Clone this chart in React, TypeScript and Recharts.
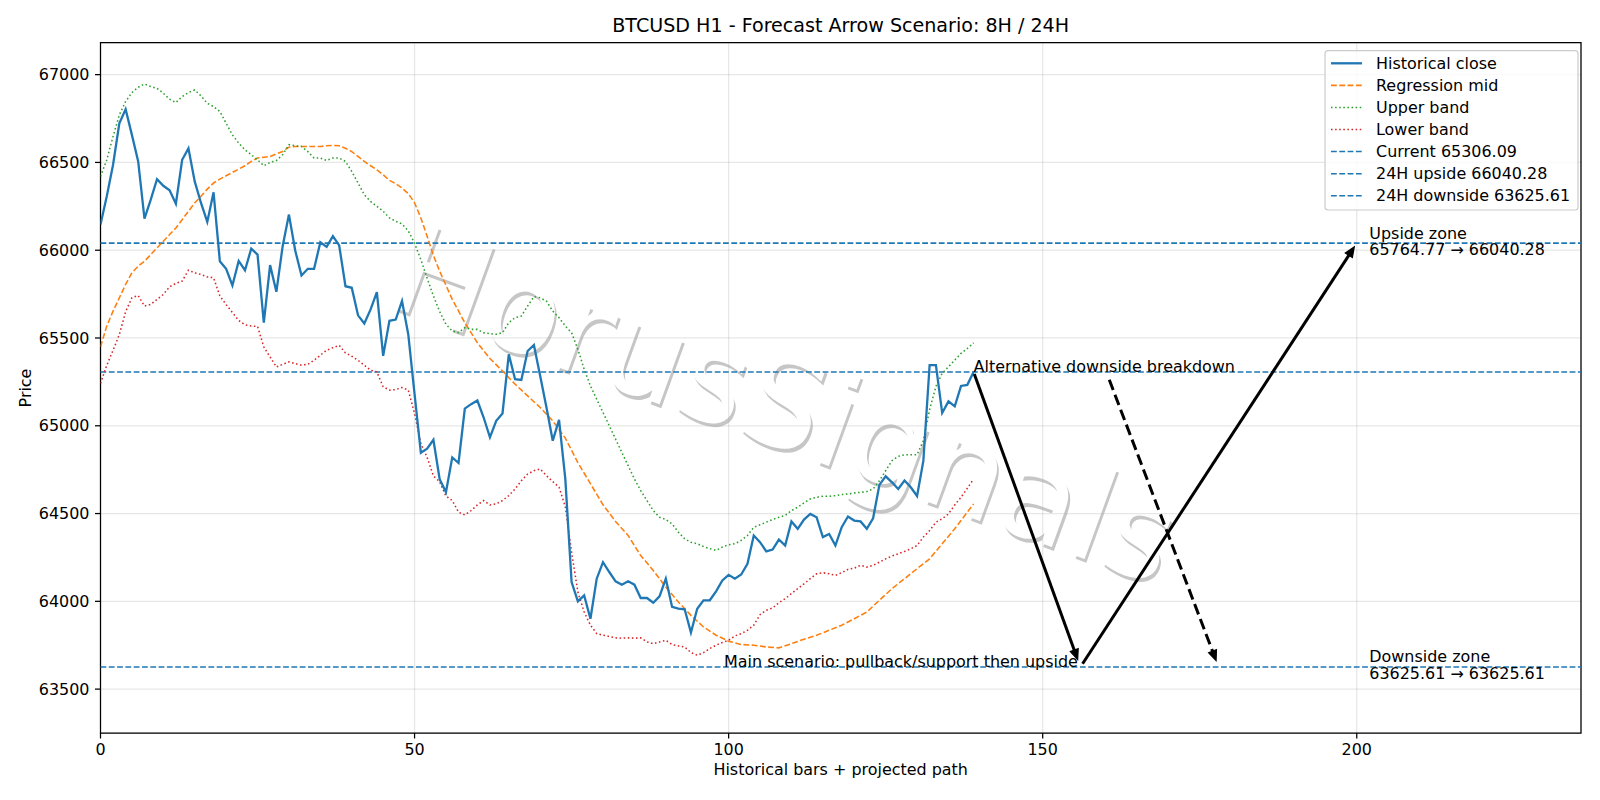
import React from 'react';
import { LineChart, Line, XAxis, YAxis, CartesianGrid, ReferenceLine, ReferenceDot, ReferenceArea } from 'recharts';

const W = 1600;
const H = 800;
const FONT = '"DejaVu Sans", sans-serif';
const FS = 15.95;

// hourly closes, bar 0..139
const closePrices = [
  66146, 66307, 66487, 66723, 66803, 66657, 66506, 66180, 66288, 66405,
  66367, 66341, 66265, 66515, 66580, 66392, 66269, 66161, 66330, 65937,
  65894, 65799, 65939, 65886, 66009, 65975, 65587, 65915, 65763, 66023,
  66203, 65998, 65856, 65894, 65894, 66045, 66019, 66080, 66027, 65795,
  65786, 65629, 65583, 65663, 65761, 65398, 65598, 65605, 65710, 65520,
  65180, 64846, 64870, 64920, 64695, 64622, 64820, 64788, 65098, 65123,
  65144, 65047, 64934, 65028, 65070, 65407, 65265, 65261, 65426, 65460,
  65284, 65104, 64915, 65034, 64697, 64110, 64000, 64034, 63901, 64129,
  64223, 64167, 64114, 64095, 64114, 64095, 64019, 64019, 63992, 64028,
  64129, 63968, 63958, 63955, 63822, 63958, 64006, 64006, 64057, 64119,
  64151, 64129, 64153, 64214, 64375, 64337, 64284, 64295, 64352, 64318,
  64455, 64413, 64466, 64498, 64479, 64366, 64384, 64318, 64422, 64483,
  64460, 64455, 64413, 64473, 64663, 64712, 64678, 64640, 64688, 64650,
  64600, 64800, 65346, 65346, 65073, 65139, 65111, 65227, 65233, 65306.09,
];

const upperBand = [
  66420, 66515, 66648, 66771, 66847, 66898, 66928, 66947, 66932, 66922,
  66894, 66860, 66841, 66875, 66898, 66913, 66879, 66837, 66818, 66790,
  66723, 66657, 66610, 66572, 66544, 66515, 66481, 66500, 66511, 66544,
  66601, 66595, 66591, 66562, 66525, 66525, 66511, 66525, 66525, 66506,
  66449, 66383, 66316, 66278, 66250, 66222, 66184, 66165, 66150, 66110,
  66040, 65947, 65840, 65740, 65650, 65578, 65540, 65530, 65559, 65549,
  65549, 65530, 65525, 65521, 65530, 65587, 65616, 65625, 65682, 65735,
  65729, 65710, 65653, 65616, 65568, 65530, 65436, 65322, 65227, 65151,
  65076, 65000, 64924, 64848, 64773, 64697, 64631, 64574, 64517, 64479,
  64466, 64441, 64394, 64356, 64337, 64328, 64312, 64300, 64290, 64309,
  64322, 64328, 64347, 64375, 64422, 64436, 64451, 64466, 64479, 64489,
  64517, 64536, 64561, 64583, 64593, 64598, 64598, 64602, 64608, 64612,
  64617, 64621, 64625, 64640, 64687, 64744, 64801, 64826, 64835, 64835,
  64835, 64915, 65092, 65224, 65299, 65336, 65374, 65412, 65440, 65472,
];

const lowerBand = [
  65241, 65345, 65430, 65520, 65650, 65729, 65742, 65682, 65691, 65720,
  65748, 65792, 65811, 65824, 65886, 65871, 65862, 65848, 65843, 65740,
  65690, 65645, 65600, 65575, 65568, 65566, 65449, 65392, 65335, 65350,
  65364, 65354, 65345, 65350, 65373, 65402, 65430, 65445, 65458, 65415,
  65396, 65373, 65345, 65316, 65307, 65222, 65203, 65206, 65218, 65203,
  65070, 64900, 64820, 64715, 64680, 64600, 64574, 64508, 64492, 64517,
  64549, 64574, 64549, 64555, 64574, 64602, 64640, 64687, 64725, 64744,
  64754, 64716, 64682, 64650, 64540, 64280, 64053, 63939, 63864, 63816,
  63807, 63800, 63792, 63790, 63792, 63790, 63792, 63769, 63759, 63769,
  63778, 63754, 63746, 63740, 63708, 63693, 63708, 63731, 63750, 63765,
  63778, 63803, 63816, 63835, 63864, 63924, 63949, 63962, 63992, 64015,
  64044, 64072, 64100, 64129, 64157, 64163, 64157, 64148, 64163, 64182,
  64189, 64205, 64195, 64205, 64223, 64242, 64258, 64271, 64284, 64299,
  64318, 64366, 64403, 64451, 64470, 64498, 64549, 64593, 64644, 64697,
];

// regression mid, read at these bars
const midBars = [
  0, 1, 2, 3, 4, 5, 6, 7, 8, 9, 10, 11, 12, 13, 14, 15, 16, 17, 18, 19,
  20, 21, 22, 23, 24, 25, 26, 27, 28, 29, 30, 31, 32, 33, 34, 35, 36, 37, 38, 39,
  40, 41, 42, 43, 44, 45, 46, 47, 48, 49, 50, 51, 52, 53, 54,
  56, 58, 60, 62, 64, 66, 68, 70, 72, 74, 76, 78, 80, 82, 84, 86, 88, 90, 92, 94,
  96, 98, 100, 102, 104, 106, 108, 110, 112, 114, 116, 118, 120, 122, 124, 126,
  128, 130, 132, 134, 136, 138, 139,
];
const midValues = [
  65450, 65568, 65653, 65729, 65805, 65871, 65909, 65937, 65975, 66013,
  66051, 66089, 66127, 66174, 66222, 66269, 66307, 66348, 66383, 66405,
  66424, 66443, 66462, 66481, 66506, 66525, 66530, 66534, 66549, 66562,
  66587, 66591, 66591, 66591, 66591, 66591, 66595, 66597, 66595, 66581,
  66562, 66534, 66506, 66481, 66458, 66430, 66398, 66379, 66354, 66322,
  66270, 66184, 66080, 65970, 65880,
  65720, 65587, 65473, 65383, 65312, 65237, 65170, 65104, 65028, 64930,
  64790, 64670, 64550, 64455, 64375, 64261, 64176, 64081, 63996, 63920,
  63854, 63807, 63773, 63754, 63750, 63740, 63735, 63759, 63784, 63807,
  63835, 63864, 63901, 63939, 64006, 64072, 64129, 64186, 64242, 64328,
  64413, 64508, 64555,
];

const CURRENT = 65306.09;
const UPSIDE_FROM = 65764.77;
const UPSIDE = 66040.28;
const DOWNSIDE = 63625.61;

const xTicks = [0, 50, 100, 150, 200];
const yTicks = [63500, 64000, 64500, 65000, 65500, 66000, 66500, 67000];
const X_MAX = 235.7;
const Y_MIN = 63250;
const Y_MAX = 67182;

// projected path (bar, price)
const mainPathBars = [139, 156, 200];
const mainPathPrices = [CURRENT, DOWNSIDE, UPSIDE];
const altFrom = { x: 160.6, y: 65262 };
const altTo = { x: 178, y: DOWNSIDE };

const WATERMARK = 'HorusSignals';

const BLUE = '#1f77b4';
const ORANGE = '#ff7f0e';
const GREEN = '#2ca02c';
const RED = '#d62728';

const closeData = closePrices.map((y, x) => ({ x, y }));
const upperData = upperBand.map((y, x) => ({ x, y }));
const lowerData = lowerBand.map((y, x) => ({ x, y }));
const midData = midBars.map((x, i) => ({ x, y: midValues[i] }));

const legendItems = [
  { label: 'Historical close', color: BLUE, dash: undefined as string | undefined, width: 2.3 },
  { label: 'Regression mid', color: ORANGE, dash: '5.8 2.5', width: 1.55 },
  { label: 'Upper band', color: GREEN, dash: '1.55 2.55', width: 1.55 },
  { label: 'Lower band', color: RED, dash: '1.55 2.55', width: 1.55 },
  { label: `Current ${CURRENT.toFixed(2)}`, color: BLUE, dash: '5.8 2.5', width: 1.55 },
  { label: `24H upside ${UPSIDE.toFixed(2)}`, color: BLUE, dash: '5.8 2.5', width: 1.55 },
  { label: `24H downside ${DOWNSIDE.toFixed(2)}`, color: BLUE, dash: '5.8 2.5', width: 1.55 },
];

function arrowShape(dashed: boolean, shrinkA: number, shrinkB: number) {
  return (p: any) => {
    const { x1, y1, x2, y2 } = p;
    const dx = x2 - x1;
    const dy = y2 - y1;
    const len = Math.hypot(dx, dy) || 1;
    const ux = dx / len;
    const uy = dy / len;
    const ax = x1 + ux * shrinkA;
    const ay = y1 + uy * shrinkA;
    const tx = x2 - ux * shrinkB;
    const ty = y2 - uy * shrinkB;
    const hl = 10;
    const hw = 4.2;
    const bx = tx - ux * hl;
    const by = ty - uy * hl;
    return (
      <g>
        <line x1={ax} y1={ay} x2={bx + ux * 2} y2={by + uy * 2} stroke="#000" strokeWidth={3}
          strokeDasharray={dashed ? '11 5' : undefined} />
        <polygon points={`${tx},${ty} ${bx - uy * hw},${by + ux * hw} ${bx + uy * hw},${by - ux * hw}`}
          fill="#000" stroke="#000" strokeWidth={1.2} />
      </g>
    );
  };
}

const textStyle = { fontFamily: FONT, fontSize: FS, fill: '#000' };

// watermark sits under the plot, as in the source image
function Watermark() {
  const cx = 786;
  const cy = 404;
  return (
    <svg width={W} height={H} style={{ position: 'absolute', left: 0, top: 0 }}>
      <g transform={`rotate(20 ${cx} ${cy})`} style={{ fontFamily: FONT, fontSize: 126 }}>
        <text x={cx + 3} y={cy + 3} textAnchor="middle" dominantBaseline="central" fill="#4d4d4d" fillOpacity={0.32}>
          {WATERMARK}
        </text>
        <text x={cx} y={cy} textAnchor="middle" dominantBaseline="central" fill="#ffffff">
          {WATERMARK}
        </text>
      </g>
    </svg>
  );
}

function Overlay() {
  const lx = 1325;
  const ly = 50.7;
  return (
    <svg width={W} height={H} style={{ position: 'absolute', left: 0, top: 0, pointerEvents: 'none' }}>
      <text x={840.7} y={32} textAnchor="middle" style={{ ...textStyle, fontSize: 19.1 }}>
        BTCUSD H1 - Forecast Arrow Scenario: 8H / 24H
      </text>
      <text x={840.7} y={775} textAnchor="middle" style={textStyle}>Historical bars + projected path</text>
      <text x={25.5} y={388} textAnchor="middle" dominantBaseline="central" transform="rotate(-90 25.5 388)" style={textStyle}>
        Price
      </text>
      <rect x={lx} y={ly} width={253} height={159.3} rx={3} fill="#fff" fillOpacity={0.8} stroke="#cccccc" strokeWidth={1.2} />
      {legendItems.map((it, i) => {
        const cy = 63.3 + i * 22.07;
        return (
          <g key={it.label}>
            <line x1={1331} x2={1362} y1={cy} y2={cy} stroke={it.color} strokeWidth={it.width} strokeDasharray={it.dash} />
            <text x={1376} y={cy + 5.7} style={textStyle}>{it.label}</text>
          </g>
        );
      })}
    </svg>
  );
}

export default function App() {
  return (
    <div style={{ position: 'absolute', left: 0, top: 0, width: W, height: H, background: '#fff' }}>
      <Watermark />
      <div style={{ position: 'absolute', left: 0, top: 0 }}>
        <LineChart width={W} height={H} margin={{ top: 42.7, right: 19, bottom: 27, left: 20.5 }}>
          <CartesianGrid stroke="#b0b0b0" strokeOpacity={0.3} strokeWidth={1.25} />
          <XAxis type="number" dataKey="x" domain={[0, X_MAX]} ticks={xTicks} allowDataOverflow height={40}
            axisLine={false} tickLine={{ stroke: '#000', strokeWidth: 1.25 }} tickSize={5.5} tickMargin={5.5}
            tick={{ fill: '#000', fontSize: FS, fontFamily: FONT }} />
          <YAxis type="number" domain={[Y_MIN, Y_MAX]} ticks={yTicks} allowDataOverflow width={80}
            axisLine={false} tickLine={{ stroke: '#000', strokeWidth: 1.25 }} tickSize={5.5} tickMargin={5.5}
            tick={{ fill: '#000', fontSize: FS, fontFamily: FONT }} />

          <ReferenceLine y={CURRENT} stroke={BLUE} strokeWidth={1.55} strokeDasharray="5.8 2.5" />
          <ReferenceLine y={UPSIDE} stroke={BLUE} strokeWidth={1.55} strokeDasharray="5.8 2.5" />
          <ReferenceLine y={DOWNSIDE} stroke={BLUE} strokeWidth={1.55} strokeDasharray="5.8 2.5" />

          <Line data={midData} dataKey="y" stroke={ORANGE} strokeWidth={1.55} strokeDasharray="5.8 2.5"
            dot={false} activeDot={false} isAnimationActive={false} />
          <Line data={upperData} dataKey="y" stroke={GREEN} strokeWidth={1.55} strokeDasharray="1.55 2.55"
            dot={false} activeDot={false} isAnimationActive={false} />
          <Line data={lowerData} dataKey="y" stroke={RED} strokeWidth={1.55} strokeDasharray="1.55 2.55"
            dot={false} activeDot={false} isAnimationActive={false} />
          <Line data={closeData} dataKey="y" stroke={BLUE} strokeWidth={2.3}
            dot={false} activeDot={false} isAnimationActive={false} />

          <ReferenceLine ifOverflow="visible"
            segment={[{ x: mainPathBars[0], y: mainPathPrices[0] }, { x: mainPathBars[1], y: mainPathPrices[1] }]}
            shape={arrowShape(false, 2, 8)} />
          <ReferenceLine ifOverflow="visible"
            segment={[{ x: mainPathBars[1], y: mainPathPrices[1] }, { x: mainPathBars[2], y: mainPathPrices[2] }]}
            shape={arrowShape(false, 4, 4.5)} />
          <ReferenceLine ifOverflow="visible"
            segment={[{ x: altFrom.x, y: altFrom.y }, { x: altTo.x, y: altTo.y }]}
            shape={arrowShape(true, 0, 7)} />

          <ReferenceDot x={139} y={CURRENT} r={0} ifOverflow="visible"
            shape={(p: any) => (
              <text x={p.cx} y={p.cy} style={textStyle}>Alternative downside breakdown</text>
            )} />
          <ReferenceDot x={155.6} y={DOWNSIDE} r={0} ifOverflow="visible"
            shape={(p: any) => (
              <text x={p.cx} y={p.cy} textAnchor="end" style={textStyle}>Main scenario: pullback/support then upside</text>
            )} />
          <ReferenceDot x={202} y={UPSIDE} r={0} ifOverflow="visible"
            shape={(p: any) => (
              <text style={textStyle}>
                <tspan x={p.cx} y={p.cy - 4.6}>Upside zone</tspan>
                <tspan x={p.cx} y={p.cy + 11.8}>{`${UPSIDE_FROM.toFixed(2)} → ${UPSIDE.toFixed(2)}`}</tspan>
              </text>
            )} />
          <ReferenceDot x={202} y={DOWNSIDE} r={0} ifOverflow="visible"
            shape={(p: any) => (
              <text style={textStyle}>
                <tspan x={p.cx} y={p.cy - 4.6}>Downside zone</tspan>
                <tspan x={p.cx} y={p.cy + 11.8}>{`${DOWNSIDE.toFixed(2)} → ${DOWNSIDE.toFixed(2)}`}</tspan>
              </text>
            )} />

          <ReferenceArea x1={0} x2={X_MAX} y1={Y_MIN} y2={Y_MAX} fill="none" stroke="#000" strokeWidth={1.25}
            ifOverflow="visible" />
        </LineChart>
      </div>
      <Overlay />
    </div>
  );
}
